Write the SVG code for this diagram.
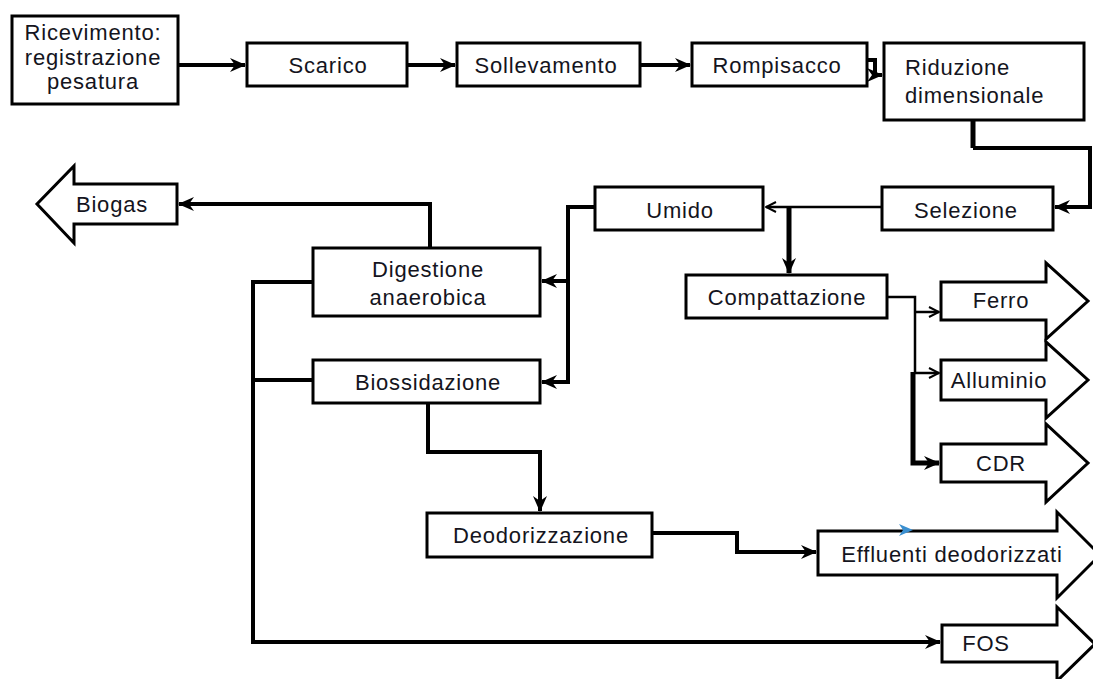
<svg xmlns="http://www.w3.org/2000/svg" width="1093" height="679" viewBox="0 0 1093 679">
  <defs>
    <style>
      .box { fill: #fff; stroke: #000; stroke-width: 3; }
      .out { fill: #fff; stroke: #000; stroke-width: 3; stroke-linejoin: miter; }
      .lbl { font-family: "Liberation Sans", Arial, sans-serif; font-size: 22px; letter-spacing: 0.8px; fill: #141420; text-anchor: middle; }
      .lft { text-anchor: start; }
      .w { fill: none; stroke: #000; stroke-width: 4; stroke-linejoin: miter; }
      .wt { fill: none; stroke: #000; stroke-width: 2.5; }
      .wk { fill: none; stroke: #000; stroke-width: 5; }
    </style>
    <marker id="solid" viewBox="0 0 16 16" refX="15" refY="8" markerWidth="16" markerHeight="16" markerUnits="userSpaceOnUse" orient="auto">
      <path d="M0,1 L16,8 L0,15 L5,8 z" fill="#000"/>
    </marker>
    <marker id="open" viewBox="0 0 12 12" refX="11" refY="6" markerWidth="12" markerHeight="12" markerUnits="userSpaceOnUse" orient="auto">
      <path d="M1,1 L11,6 L1,11" fill="none" stroke="#000" stroke-width="2"/>
    </marker>
  </defs>
  <rect width="1093" height="679" fill="#fff"/>

  <!-- process steps -->
  <g id="ricevimento">
    <rect class="box" x="12" y="16" width="166" height="88"/>
    <text class="lbl" x="93" y="40">Ricevimento:</text>
    <text class="lbl" x="93" y="65">registrazione</text>
    <text class="lbl" x="93" y="89">pesatura</text>
  </g>
  <g id="scarico">
    <rect class="box" x="247" y="43" width="160" height="43"/>
    <text class="lbl" x="328" y="73">Scarico</text>
  </g>
  <g id="sollevamento">
    <rect class="box" x="457" y="43" width="183" height="43"/>
    <text class="lbl" x="546" y="73">Sollevamento</text>
  </g>
  <g id="rompisacco">
    <rect class="box" x="692" y="43" width="175" height="43"/>
    <text class="lbl" x="777" y="73">Rompisacco</text>
  </g>
  <g id="riduzione">
    <rect class="box" x="884" y="43" width="200" height="77"/>
    <text class="lbl lft" x="905" y="75">Riduzione</text>
    <text class="lbl lft" x="905" y="103">dimensionale</text>
  </g>
  <g id="selezione">
    <rect class="box" x="882" y="187" width="171" height="43"/>
    <text class="lbl" x="966" y="218">Selezione</text>
  </g>
  <g id="umido">
    <rect class="box" x="595" y="187" width="168" height="43"/>
    <text class="lbl" x="680" y="218">Umido</text>
  </g>
  <g id="compattazione">
    <rect class="box" x="686" y="275" width="201" height="43"/>
    <text class="lbl" x="787" y="305">Compattazione</text>
  </g>
  <g id="digestione">
    <rect class="box" x="313" y="248" width="227" height="68"/>
    <text class="lbl" x="428" y="277">Digestione</text>
    <text class="lbl" x="428" y="305">anaerobica</text>
  </g>
  <g id="biossidazione">
    <rect class="box" x="313" y="360" width="227" height="43"/>
    <text class="lbl" x="428" y="390">Biossidazione</text>
  </g>
  <g id="deodorizzazione">
    <rect class="box" x="427" y="513" width="225" height="44"/>
    <text class="lbl" x="541" y="543">Deodorizzazione</text>
  </g>

  <!-- outputs -->
  <g id="biogas">
    <path class="out" d="M177,184 H74 V166 L37,204 L74,243 V224 H177 z"/>
    <text class="lbl" x="112" y="212">Biogas</text>
  </g>
  <g id="ferro">
    <path class="out" d="M941,282 H1046 V263 L1088,301 L1046,339 V320 H941 z"/>
    <text class="lbl" x="1001" y="308">Ferro</text>
  </g>
  <g id="alluminio">
    <path class="out" d="M941,360 H1046 V342 L1088,380 L1046,418 V400 H941 z"/>
    <text class="lbl" x="999" y="388">Alluminio</text>
  </g>
  <g id="cdr">
    <path class="out" d="M941,444 H1046 V424 L1088,463 L1046,502 V482 H941 z"/>
    <text class="lbl" x="1001" y="471">CDR</text>
  </g>
  <g id="effluenti">
    <path class="out" d="M818,531 H1057 V512 L1100,555 L1057,598 V575 H818 z"/>
    <text class="lbl" x="952" y="562">Effluenti deodorizzati</text>
  </g>
  <g id="fos">
    <path class="out" d="M942,625 H1057 V607 L1095,644 L1057,681 V662 H942 z"/>
    <text class="lbl" x="986" y="651">FOS</text>
  </g>

  <!-- connectors -->
  <g id="connectors">
    <path class="w" d="M178,65 H245" marker-end="url(#solid)"/>
    <path class="w" d="M407,65 H455" marker-end="url(#solid)"/>
    <path class="w" d="M640,65 H690" marker-end="url(#solid)"/>
    <path class="w" d="M867,60 H875 V75 H882" marker-end="url(#solid)"/>
    <path class="wk" d="M973,121 V148"/>
    <path class="w" d="M973,148 H1090 V207 H1055" marker-end="url(#solid)"/>
    <path class="wt" d="M881,207 H766" marker-end="url(#open)"/>
    <path class="wk" d="M789,207 V273" marker-end="url(#solid)"/>
    <path class="w" d="M594,207 H568 V382 H542" marker-end="url(#solid)"/>
    <path class="w" d="M568,281 H542" marker-end="url(#solid)"/>
    <path class="w" d="M430,247 V204 H179" marker-end="url(#solid)"/>
    <path class="w" d="M312,282 H253 V642 H940" marker-end="url(#solid)"/>
    <path class="w" d="M312,380 H253"/>
    <path class="w" d="M428,404 V452 H540 V511" marker-end="url(#solid)"/>
    <path class="w" d="M653,533 H737 V552 H816" marker-end="url(#solid)"/>
    <path class="wt" d="M888,297 H915 V373"/>
    <path class="wt" d="M915,312 H939" marker-end="url(#open)"/>
    <path class="wt" d="M915,373 H939" marker-end="url(#open)"/>
    <path class="wk" d="M913,372 V463 H939" marker-end="url(#solid)"/>
    <path d="M899,524 L913,530 L899,536 L903,530 z" fill="#3a8fd0"/>
  </g>
</svg>
